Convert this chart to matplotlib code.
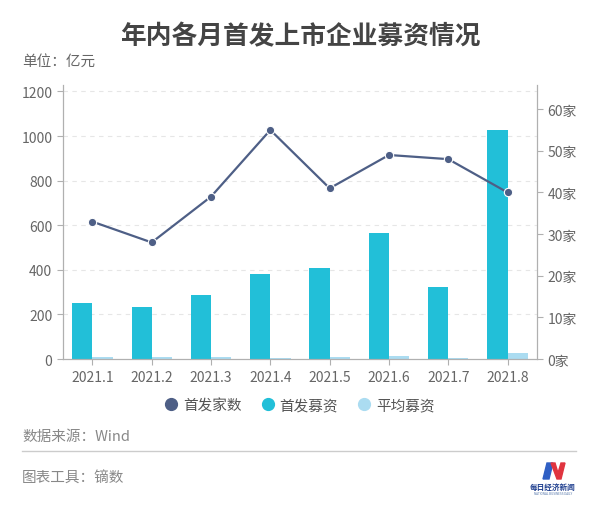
import matplotlib
matplotlib.use("Agg")
import matplotlib.pyplot as plt
from matplotlib.lines import Line2D
from matplotlib.patches import Polygon
import numpy as np

plt.rcParams['font.family'] = ['Noto Sans CJK SC', 'DejaVu Sans']

months = ["2021.1", "2021.2", "2021.3", "2021.4", "2021.5", "2021.6", "2021.7", "2021.8"]
ipo_count = [33, 28, 39, 55, 41, 49, 48, 40]
ipo_raise = [250, 232, 288, 382, 409, 565, 323, 1028]
avg_raise = [7.6, 8.3, 7.4, 6.9, 10.0, 11.5, 6.7, 25.7]
left_ticks = [0, 200, 400, 600, 800, 1000, 1200]
right_ticks = [0, 10, 20, 30, 40, 50, 60]

c_line = "#4e5f86"
c_bar = "#22bfd8"
c_avg = "#abdcf1"
c_axis = "#b0b0b0"
c_tick = "#666666"

fig = plt.figure(figsize=(6, 5.1), dpi=100)
ax = fig.add_axes([0.1045, 0.294, 0.791, 0.537])
ax2 = ax.twinx()

x = np.arange(len(months))
w = 0.34
ax.bar(x - w / 2, ipo_raise, width=w, color=c_bar, zorder=2)
ax.bar(x + w / 2, avg_raise, width=w, color=c_avg, zorder=2)
ax2.plot(x, ipo_count, color=c_line, lw=1.6, marker='o', ms=6,
         markerfacecolor=c_line, markeredgecolor='white', markeredgewidth=0.8, zorder=3)

ax.set_xlim(-0.5, len(months) - 0.5)
ax.set_ylim(0, 1228)
ax2.set_ylim(0, 65.76)
ax.set_yticks(left_ticks)
ax2.set_yticks(right_ticks)
ax2.set_yticklabels([f"{v}家" for v in right_ticks])
ax.set_xticks(x)
ax.set_xticklabels(months)

for t in left_ticks[1:]:
    ax.axhline(t, color="#e6e6e6", lw=0.8, ls=(0, (4, 4)), zorder=1)

for a in (ax, ax2):
    for s in ("top",):
        a.spines[s].set_visible(False)
    for s in ("left", "right", "bottom"):
        a.spines[s].set_color(c_axis)
        a.spines[s].set_linewidth(0.8)
    a.tick_params(colors=c_axis, labelcolor=c_tick, labelsize=10, length=4, width=0.8)
ax.tick_params(axis='x', pad=4)
ax2.set_zorder(ax.get_zorder() + 1)
ax2.patch.set_visible(False)

fig.text(0.5, 1 - 37 / 510, "年内各月首发上市企业募资情况", ha='center', va='center',
         fontsize=18.5, fontweight='bold', color="#444444")
fig.text(22 / 600, 1 - 62 / 510, "单位：亿元", ha='left', va='center', fontsize=10.5, color="#666666")

handles = [Line2D([], [], ls='none', marker='o', ms=8.5, color=c_line, label="首发家数"),
           Line2D([], [], ls='none', marker='o', ms=8.5, color=c_bar, label="首发募资"),
           Line2D([], [], ls='none', marker='o', ms=8.5, color=c_avg, label="平均募资")]
fig.legend(handles=handles, loc='center', bbox_to_anchor=(0.5, 1 - 406 / 510), ncol=3,
           frameon=False, fontsize=10.5, handlelength=0.8, handletextpad=0.4,
           columnspacing=1.4, labelcolor="#555555")

fig.text(22 / 600, 1 - 437 / 510, "数据来源：Wind", ha='left', va='center', fontsize=10.5, color="#888888")
fig.add_artist(Line2D([22 / 600, 576 / 600], [1 - 452 / 510, 1 - 452 / 510], color="#cccccc", lw=1))
fig.text(22 / 600, 1 - 479 / 510, "图表工具：镝数", ha='left', va='center', fontsize=10.5, color="#888888")

# logo
lax = fig.add_axes([528 / 600, 1 - 500 / 510, 50 / 600, 40 / 510])
lax.set_xlim(0, 50)
lax.set_ylim(40, 0)
lax.axis('off')
lax.add_patch(Polygon([[15, 20], [19, 4], [25, 4], [21, 20]], closed=True, color="#2f5fc4"))
lax.add_patch(Polygon([[23, 4], [27, 4], [30, 14], [33, 4], [37, 4], [33, 20], [29, 20]],
                      closed=True, color="#e0343f"))
lax.text(25, 27, "每日经济新闻", ha='center', va='center', fontsize=5.5, fontweight='bold', color="#1f3f8f")
lax.text(25, 34, "NATIONAL BUSINESS DAILY", ha='center', va='center', fontsize=2.2, color="#5577aa")

fig.savefig("out.png", dpi=100)
